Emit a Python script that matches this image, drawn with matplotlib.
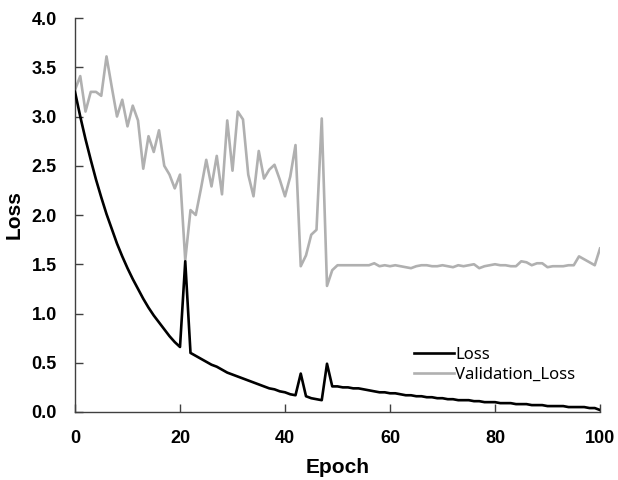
import numpy as np
import matplotlib
matplotlib.use("Agg")
import matplotlib.pyplot as plt

# values (epochs 0..100)
epochs = np.arange(101)

loss = [3.25, 3.00, 2.77, 2.56, 2.36, 2.18, 2.01, 1.86, 1.71, 1.58,
        1.46, 1.35, 1.25, 1.15, 1.06, 0.98, 0.91, 0.84, 0.77, 0.71,
        0.66, 1.53, 0.60, 0.57, 0.54, 0.51, 0.48, 0.46, 0.43, 0.40,
        0.38, 0.36, 0.34, 0.32, 0.30, 0.28, 0.26, 0.24, 0.23, 0.21,
        0.20, 0.18, 0.17, 0.39, 0.16, 0.14, 0.13, 0.12, 0.49, 0.26,
        0.26, 0.25, 0.25, 0.24, 0.24, 0.23, 0.22, 0.21, 0.20, 0.20,
        0.19, 0.19, 0.18, 0.17, 0.17, 0.16, 0.16, 0.15, 0.15, 0.14,
        0.14, 0.13, 0.13, 0.12, 0.12, 0.12, 0.11, 0.11, 0.10, 0.10,
        0.10, 0.09, 0.09, 0.09, 0.08, 0.08, 0.08, 0.07, 0.07, 0.07,
        0.06, 0.06, 0.06, 0.06, 0.05, 0.05, 0.05, 0.05, 0.04, 0.04,
        0.02]

val_loss = [3.27, 3.41, 3.05, 3.25, 3.25, 3.21, 3.61, 3.30, 3.00, 3.17,
            2.90, 3.11, 2.96, 2.47, 2.80, 2.64, 2.86, 2.50, 2.41, 2.27,
            2.41, 1.54, 2.05, 2.00, 2.27, 2.56, 2.29, 2.60, 2.21, 2.96,
            2.45, 3.05, 2.97, 2.41, 2.19, 2.65, 2.37, 2.46, 2.51, 2.36,
            2.19, 2.39, 2.71, 1.48, 1.59, 1.80, 1.85, 2.98, 1.28, 1.44,
            1.49, 1.49, 1.49, 1.49, 1.49, 1.49, 1.49, 1.51, 1.48, 1.49,
            1.48, 1.49, 1.48, 1.47, 1.46, 1.48, 1.49, 1.49, 1.48, 1.48,
            1.49, 1.48, 1.47, 1.49, 1.48, 1.49, 1.50, 1.46, 1.48, 1.49,
            1.50, 1.49, 1.49, 1.48, 1.48, 1.53, 1.52, 1.49, 1.51, 1.51,
            1.47, 1.48, 1.48, 1.48, 1.49, 1.49, 1.58, 1.55, 1.52, 1.49,
            1.66]

xticks = [0, 20, 40, 60, 80, 100]
yticks = [0.0, 0.5, 1.0, 1.5, 2.0, 2.5, 3.0, 3.5, 4.0]

plt.rcParams["font.family"] = ["Liberation Sans", "DejaVu Sans"]
plt.rcParams["font.weight"] = "bold"

fig = plt.figure(figsize=(6.18, 4.8), dpi=100)
ax = fig.add_axes([75 / 618, 68 / 480, 525 / 618, 394 / 480])

ax.plot(epochs, loss, color="black", lw=1.9, label="Loss", zorder=3)
ax.plot(epochs, val_loss, color="#b0b0b0", lw=1.9, label="Validation_Loss", zorder=2)

ax.set_xlim(0, 100)
ax.set_ylim(0, 4.0)
ax.set_xticks(xticks)
ax.set_yticks(yticks)
ax.set_yticklabels([f"{v:.1f}" for v in yticks])

for s in ["top", "right"]:
    ax.spines[s].set_visible(False)
for s in ["left", "bottom"]:
    ax.spines[s].set_color("#404040")
    ax.spines[s].set_linewidth(1.0)

ax.tick_params(direction="in", length=6, width=1.0, color="#404040", pad=13,
               labelsize=13)

ax.set_xlabel("Epoch", fontweight="bold", fontsize=15, labelpad=8)
ax.set_ylabel("Loss", fontweight="bold", fontsize=15, labelpad=6)

ax.legend(loc="upper left", bbox_to_anchor=(0.645, 0.165), frameon=False,
          prop={"family": "Noto Sans", "size": 12, "weight": "normal"},
          handlelength=2.4, handletextpad=0.1, labelspacing=0.25,
          borderaxespad=0, borderpad=0)

fig.savefig("out.png", dpi=100)
